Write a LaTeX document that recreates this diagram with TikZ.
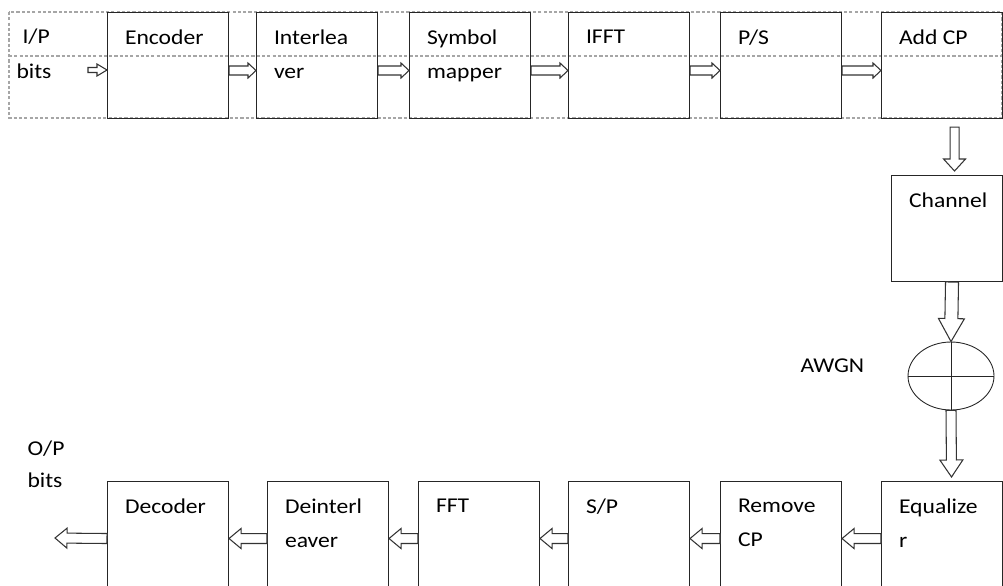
\documentclass[tikz,border=0pt]{standalone}
\usepackage{fontspec}
\setmainfont{Carlito}[FakeStretch=1.12]
\usetikzlibrary{calc,shapes.geometric}

% hollow block arrow: shaft half width, head half width, head length
\tikzset{
  blockarrow/.style n args={3}{draw=black!80, line width=0.6pt, fill=white,
    to path={let \p1=($(\tikztotarget)-(\tikztostart)$),
      \n1={veclen(\x1,\y1)}, \n2={atan2(\y1,\x1)} in
      ([shift={(\tikztostart)},rotate=\n2]0pt,#1)
      -- ([shift={(\tikztostart)},rotate=\n2]\n1*1pt-#3,#1)
      -- ([shift={(\tikztostart)},rotate=\n2]\n1*1pt-#3,#2)
      -- ([shift={(\tikztostart)},rotate=\n2]\n1*1pt,0pt)
      -- ([shift={(\tikztostart)},rotate=\n2]\n1*1pt-#3,-#2)
      -- ([shift={(\tikztostart)},rotate=\n2]\n1*1pt-#3,-#1)
      -- ([shift={(\tikztostart)},rotate=\n2]0pt,-#1) -- cycle}},
}

\begin{document}
\begin{tikzpicture}[x=0.02cm, y=-0.02cm, line width=0.6pt,
  box/.style={draw=black!85, anchor=north west, inner xsep=0.35cm, inner ysep=0.34cm,
    font=\fontsize{12}{19.8}\selectfont,
    execute at begin node={\begin{minipage}[t][1.44cm][t]{#1}},
    execute at end node={\end{minipage}}},
  box/.default=1.72cm,
  txt/.style={anchor=base west, inner sep=0pt, font=\fontsize{12}{19.8}\selectfont},
  frame/.style={draw=black!35, dash pattern=on 1.8pt off 1.2pt},
  small/.style={blockarrow={0.09cm}{0.15cm}{0.16cm}},
  big/.style={blockarrow={0.1cm}{0.2cm}{0.24cm}}
]
\useasboundingbox (0,0) rectangle (1003,585);
\clip (0,0) rectangle (1003,585);

% dashed frame round the transmitter row
\draw[frame] (9,12) rectangle (1002,118);
\draw[frame] (9,56) -- (1002,56);

% transmitter
\node[box] (enc) at (107,12) {Encoder};
\node[box] (intl) at (256,12) {Interlea\\ver};
\node[box] (map) at (409,12) {Symbol\\mapper};
\node[box] (ifft) at (568,12) {IFFT};
\node[box] (ps) at (720,12) {P/S};
\node[box] (acp) at (881,12) {Add CP};

% channel and noise
\node[box=1.52cm] (chan) at (891,175) {Channel};
\node[draw=black!85, line width=0.5pt, ellipse, minimum width=1.72cm, minimum height=1.36cm, inner sep=0pt] (sum) at (951,376) {};
\draw[black!85, line width=0.45pt] (sum.north) -- (sum.south) (sum.west) -- (sum.east);
\node[txt] (noise) at (800,372) {AWGN};

% receiver
\node[box] (eq) at (881,481) {Equalize\\r};
\node[box] (rcp) at (720,481) {Remove\\CP};
\node[box] (sp) at (568,481) {S/P};
\node[box] (fft) at (418,481) {FFT};
\node[box] (dint) at (267,481) {Deinterl\\eaver};
\node[box] (dec) at (107,481) {Decoder};

\node[txt] (ip) at (22,43) {I/P};
\node[txt] (ipbits) at (16,78) {bits};
\node[txt] (op) at (27,455) {O/P};
\node[txt] (opbits) at (27,487) {bits};
\coordinate (bitsin) at (88,70);
\coordinate (bitsout) at (55,538);

\draw[blockarrow={0.05cm}{0.12cm}{0.2cm}] (bitsin) to (bitsin -| enc.west);
\foreach \a/\b in {enc/intl, intl/map, map/ifft, ifft/ps, ps/acp}
  \draw[small] ([yshift=-0.1cm]\a.east) to ([yshift=-0.1cm]\b.west);
\draw[blockarrow={0.09cm}{0.22cm}{0.24cm}] ([shift={(12.5,8)}]acp.south) to ([shift={(7.5,-4)}]chan.north);
\draw[blockarrow={0.13cm}{0.26cm}{0.46cm}] ([xshift=0.1cm]chan.south) to (sum.north);
\draw[blockarrow={0.1cm}{0.23cm}{0.34cm}] (sum.south) to ([shift={(9.5,-4)}]eq.north);
\foreach \a/\b in {eq/rcp, rcp/sp, sp/fft, fft/dint, dint/dec}
  \draw[big] ([yshift=-0.08cm]\a.west) to ([yshift=-0.08cm]\b.east);
\draw[big] ([yshift=-0.08cm]dec.west) to (bitsout);
\end{tikzpicture}
\end{document}
